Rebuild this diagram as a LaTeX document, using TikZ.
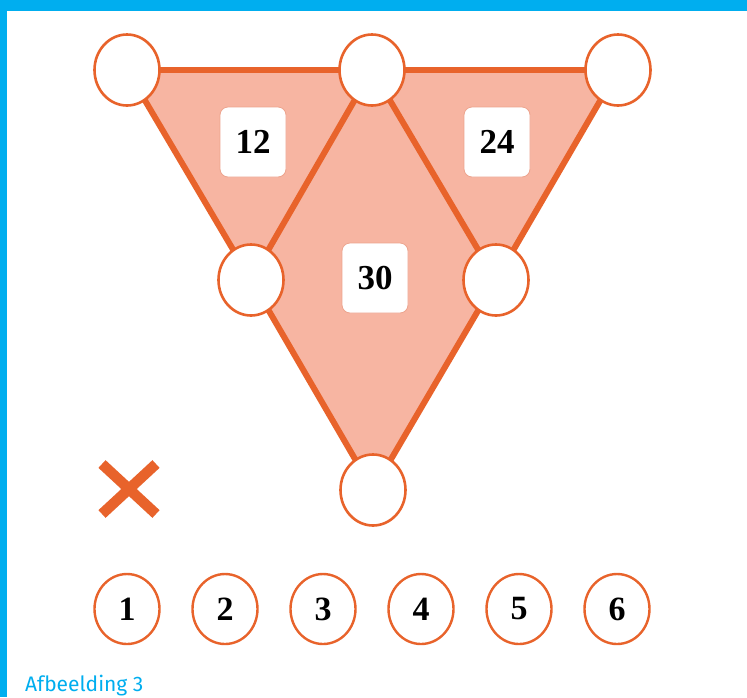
\documentclass[tikz,border=0pt]{standalone}
\usepackage{fontspec}
\setmainfont{Liberation Serif}
\newfontfamily\capfont{Fira Sans}
\usetikzlibrary{shapes.geometric}
\definecolor{frame}{HTML}{00AEEF}
\definecolor{edge}{HTML}{E8632B}
\definecolor{face}{HTML}{F7B5A2}
\definecolor{boxline}{HTML}{EDA48E}
\begin{document}
\begin{tikzpicture}[x=1pt,y=-1pt,
  spot/.style={ellipse, draw=edge, line width=2.6pt, fill=white, minimum width=65pt, minimum height=71pt, inner sep=0pt},
  pick/.style={ellipse, draw=edge, line width=2.4pt, fill=white, minimum width=65pt, minimum height=70pt, inner sep=0pt, font=\bfseries\fontsize{34}{34}\selectfont},
  sumbox/.style={rectangle, rounded corners=8pt, draw=boxline, line width=0.8pt, fill=white, minimum width=66pt, minimum height=70pt, inner sep=0pt, font=\bfseries\fontsize{35}{35}\selectfont},
  side/.style={draw=edge, line width=6pt, line cap=round}]
\useasboundingbox (0,0) rectangle (747,697);
\fill[white] (0,0) rectangle (747,697);
\fill[frame] (0,0) rectangle (747,11);
\fill[frame] (0,0) rectangle (7,697);
% centres
\coordinate (tl) at (127,70);
\coordinate (tm) at (372,70);
\coordinate (tr) at (618,70);
\coordinate (ml) at (251,280);
\coordinate (mr) at (496,280);
\coordinate (bt) at (373,490);
\fill[face] (tl) -- (tr) -- (bt) -- cycle;
\draw[side] (tl) -- (tm) -- (tr);
\draw[side] (tl) -- (ml) -- (bt);
\draw[side] (tr) -- (mr) -- (bt);
\draw[side] (ml) -- (tm) -- (mr);
\node[spot] (ntl) at (tl) {};
\node[spot] (ntm) at (tm) {};
\node[spot] (ntr) at (tr) {};
\node[spot] (nml) at (ml) {};
\node[spot] (nmr) at (mr) {};
\node[spot] (nbt) at (bt) {};
\node[sumbox] (s12) at (253,142) {12};
\node[sumbox] (s24) at (497,142) {24};
\node[sumbox] (s30) at (375,278) {30};
% cross
\draw[edge, line width=10.5pt] (102,464) -- (156,514);
\draw[edge, line width=10.5pt] (156,464) -- (102,514);
% number row
\node[pick] (p1) at (127,609) {1};
\node[pick] (p2) at (225,609) {2};
\node[pick] (p3) at (323,609) {3};
\node[pick] (p4) at (421,609) {4};
\node[pick] (p5) at (519,609) {5};
\node[pick] (p6) at (617,609) {6};
\node[anchor=base west, inner sep=0pt, text=frame, font=\capfont\fontsize{21}{21}\selectfont] (cap) at (25,691) {Afbeelding 3};
\end{tikzpicture}
\end{document}
